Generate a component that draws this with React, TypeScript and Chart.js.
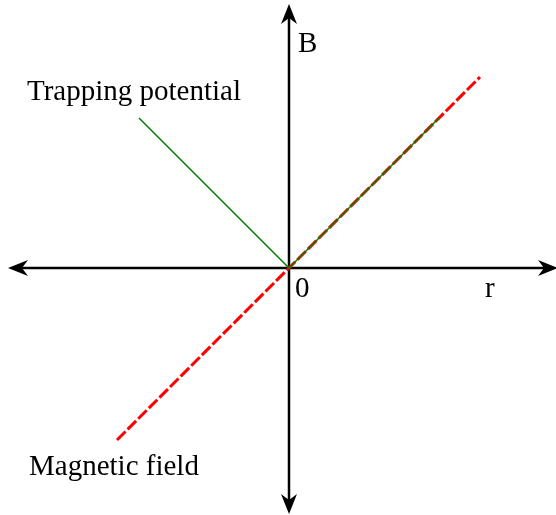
import React, { useEffect, useRef } from "react";
import { Chart, registerables } from "chart.js";
Chart.register(...registerables);

const trapX = [-150, 0, 150];
const trapY = [150, 0, 150];
const fieldX = [-172, 191];
const fieldY = [-172, 191];
const labels = [
  { text: "B", x: 9, y: 216 },
  { text: "Trapping potential", x: -262, y: 168 },
  { text: "0", x: 6, y: -29 },
  { text: "r", x: 196, y: -29 },
  { text: "Magnetic field", x: -260, y: -207 },
];

function arrow(ctx: CanvasRenderingContext2D, x: number, y: number, ang: number) {
  const L = 20, W = 8, N = 14;
  ctx.save();
  ctx.translate(x, y);
  ctx.rotate(ang);
  ctx.beginPath();
  ctx.moveTo(0, 0);
  ctx.lineTo(-L, -W);
  ctx.lineTo(-N, 0);
  ctx.lineTo(-L, W);
  ctx.closePath();
  ctx.fill();
  ctx.restore();
}

const axesPlugin = {
  id: "axesPlugin",
  beforeDatasetsDraw(chart: any) {
    const ctx = chart.ctx;
    const xs = chart.scales.x, ys = chart.scales.y;
    const ox = xs.getPixelForValue(0), oy = ys.getPixelForValue(0);
    ctx.save();
    ctx.strokeStyle = "#000";
    ctx.fillStyle = "#000";
    ctx.lineWidth = 2.5;
    ctx.beginPath();
    ctx.moveTo(14, oy); ctx.lineTo(550, oy);
    ctx.moveTo(ox, 12); ctx.lineTo(ox, 506);
    ctx.stroke();
    arrow(ctx, 558, oy, 0);
    arrow(ctx, 8, oy, Math.PI);
    arrow(ctx, ox, 4, -Math.PI / 2);
    arrow(ctx, ox, 514, Math.PI / 2);
    ctx.restore();
  },
  afterDraw(chart: any) {
    const ctx = chart.ctx;
    const xs = chart.scales.x, ys = chart.scales.y;
    ctx.save();
    ctx.fillStyle = "#000";
    ctx.font = "29px \"Liberation Serif\", serif";
    ctx.textBaseline = "alphabetic";
    ctx.textAlign = "left";
    for (const l of labels) {
      ctx.fillText(l.text, xs.getPixelForValue(l.x), ys.getPixelForValue(l.y));
    }
    ctx.restore();
  },
};

export default function App() {
  const ref = useRef<HTMLCanvasElement>(null);
  useEffect(() => {
    const chart = new Chart(ref.current!, {
      type: "scatter",
      data: {
        datasets: [
          {
            data: trapX.map((x, i) => ({ x, y: trapY[i] })),
            showLine: true,
            borderColor: "#007f00",
            borderWidth: 1.5,
            pointRadius: 0,
          },
          {
            data: fieldX.map((x, i) => ({ x, y: fieldY[i] })),
            showLine: true,
            borderColor: "#ff0000",
            borderWidth: 3,
            borderDash: [12, 3],
            pointRadius: 0,
          },
        ],
      },
      options: {
        animation: false,
        responsive: false,
        maintainAspectRatio: false,
        layout: { padding: 0 },
        plugins: { legend: { display: false }, tooltip: { enabled: false } },
        scales: {
          x: { type: "linear", min: -289, max: 267, display: false },
          y: { type: "linear", min: -247, max: 268, display: false },
        },
      },
      plugins: [axesPlugin],
    });
    return () => chart.destroy();
  }, []);
  return (
    <div style={{ position: "absolute", left: 0, top: 0, width: 556, height: 515, background: "#fff" }}>
      <canvas ref={ref} width={556} height={515} style={{ display: "block" }} />
    </div>
  );
}
